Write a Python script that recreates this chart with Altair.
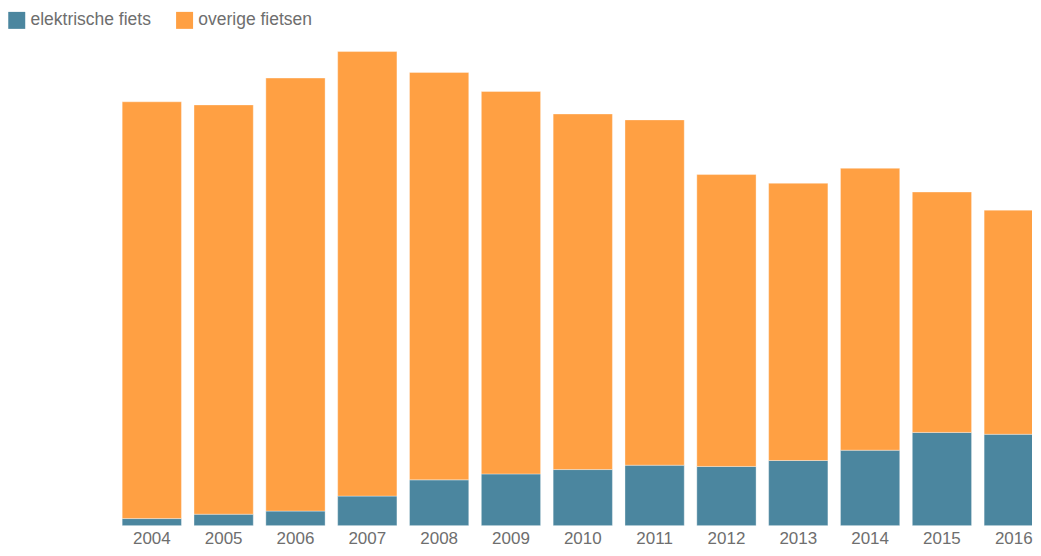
import altair as alt
import pandas as pd

years = ["2004", "2005", "2006", "2007", "2008", "2009", "2010",
         "2011", "2012", "2013", "2014", "2015", "2016"]
elektrisch = [23, 37, 47, 95, 147, 166, 180, 194, 190, 209, 242, 299, 293]
overig = [1335, 1311, 1387, 1424, 1305, 1225, 1139, 1106, 935, 888, 903, 770, 718]
series = ["elektrische fiets", "overige fietsen"]
colors = ["#4b869f", "#ffa043"]

rows = []
for y, e, o in zip(years, elektrisch, overig):
    rows.append({"jaar": y, "soort": series[0], "aantal": e, "ord": 0})
    rows.append({"jaar": y, "soort": series[1], "aantal": o, "ord": 1})
df = pd.DataFrame(rows)

FONT = "Liberation Sans"

chart = alt.Chart(df).mark_bar(
    clip=True, stroke="white", strokeOpacity=0.35, strokeWidth=1
).encode(
    x=alt.X("jaar:N", sort=years,
            scale=alt.Scale(range=[114.3, 1036.4], paddingInner=0.175, paddingOuter=0),
            axis=alt.Axis(title=None, labelAngle=0, domain=False, ticks=False,
                          grid=False, labelPadding=5, labelFontSize=17,
                          labelColor="#6e6e6e", labelFont=FONT)),
    y=alt.Y("aantal:Q", stack="zero",
            scale=alt.Scale(domain=[0, 1667.2], nice=False, zero=True),
            axis=None),
    color=alt.Color("soort:N",
                    scale=alt.Scale(domain=series, range=colors),
                    legend=alt.Legend(title=None, orient="none", direction="horizontal",
                                      legendX=0, legendY=6, symbolType="square",
                                      symbolSize=289, symbolStrokeWidth=0,
                                      symbolOpacity=1,
                                      labelFontSize=17.5, labelColor="#6e6e6e",
                                      labelFont=FONT, labelOffset=5,
                                      columnPadding=24, padding=0)),
    order=alt.Order("ord:Q"),
).properties(
    width=1025, height=521,
    padding={"top": -3, "bottom": 0, "left": 0, "right": 0}
).configure_view(stroke=None)

chart.save("out.html", embed_options={"renderer": "svg", "actions": False})
